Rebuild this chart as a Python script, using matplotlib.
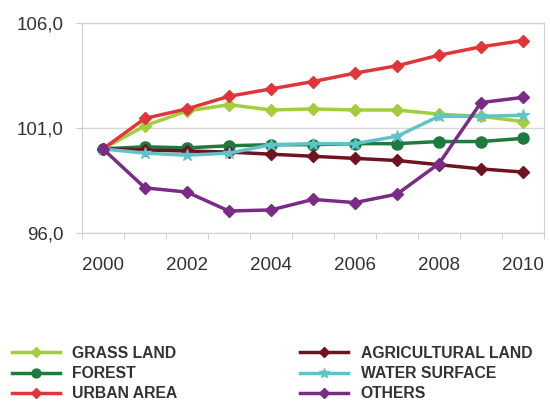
import numpy as np
import matplotlib.pyplot as plt
from matplotlib.ticker import FuncFormatter

years = list(range(2000, 2011))

grass_land = [100.0, 101.1, 101.8, 102.1, 101.85, 101.9, 101.85, 101.85, 101.65, 101.55, 101.3]
forest = [100.0, 100.1, 100.05, 100.15, 100.2, 100.2, 100.25, 100.25, 100.35, 100.35, 100.5]
urban_area = [100.0, 101.45, 101.9, 102.5, 102.85, 103.2, 103.6, 103.95, 104.45, 104.85, 105.15]
agricultural_land = [100.0, 99.95, 99.9, 99.85, 99.75, 99.65, 99.55, 99.45, 99.25, 99.05, 98.9]
water_surface = [100.0, 99.8, 99.7, 99.8, 100.2, 100.25, 100.25, 100.6, 101.55, 101.55, 101.6]
others = [100.0, 98.15, 97.95, 97.05, 97.1, 97.6, 97.45, 97.85, 99.3, 102.2, 102.45]

series = [
    ("GRASS LAND", grass_land, "#a2cd3c", "D"),
    ("FOREST", forest, "#1f7a3e", "o"),
    ("URBAN AREA", urban_area, "#e0363a", "D"),
    ("AGRICULTURAL LAND", agricultural_land, "#6e1420", "D"),
    ("WATER SURFACE", water_surface, "#5fc4c8", "*"),
    ("OTHERS", others, "#7a2b86", "D"),
]

plt.rcParams['font.family'] = ['Liberation Sans', 'DejaVu Sans']

fig = plt.figure(figsize=(5.5, 4.04), dpi=100)
ax = fig.add_axes([0.149, 0.423, 0.84, 0.521])

for name, vals, col, mk in series:
    ms = 6 if mk == "D" else (8 if mk == "o" else 9)
    ax.plot(years, vals, color=col, lw=2.5, marker=mk, ms=ms, label=name)

ax.set_xlim(1999.5, 2010.5)
ax.set_ylim(96, 106)
ax.set_yticks([96, 101, 106])
ax.yaxis.set_major_formatter(FuncFormatter(lambda v, p: f"{v:.1f}".replace(".", ",")))
ax.set_xticks(range(2000, 2011, 2))
ax.set_xticks(np.arange(1999.5, 2011, 1), minor=True)
ax.tick_params(axis='x', which='major', length=0, labelsize=13.5, colors='#333333', pad=17)
ax.tick_params(axis='x', which='minor', length=4, color='#c8c8c8')
ax.tick_params(axis='y', length=4, color='#c8c8c8', labelcolor='#333333', labelsize=13.5, pad=9)
ax.grid(axis='y', color='#d8d8d8', lw=1)
for s in ax.spines.values():
    s.set_color('#d0d0d0')

leg = fig.legend(loc='upper left', bbox_to_anchor=(12 / 550, 0.144), ncol=2, frameon=False,
                 prop={'weight': 'bold', 'size': 11.3}, handlelength=3.05, handletextpad=0.8,
                 columnspacing=7.8, labelspacing=0.34, borderaxespad=0, borderpad=0,
                 markerscale=0.8)
for t in leg.get_texts():
    t.set_color('#333333')

fig.savefig("out.png", dpi=100)
